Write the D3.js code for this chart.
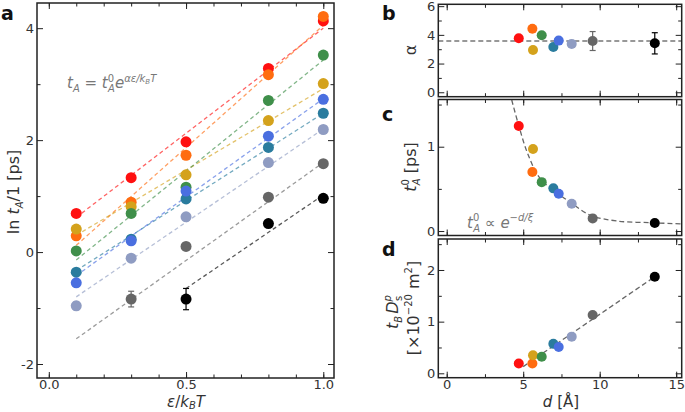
<!DOCTYPE html>
<html><head><meta charset="utf-8">
<script src="https://cdn.jsdelivr.net/npm/d3@7"></script>
<style>
body{margin:0;background:#fff;}
svg{display:block;font-family:"DejaVu Sans",sans-serif;}
</style></head>
<body><svg id="chart" width="685" height="412"></svg>
<script>
// ---------- data ----------
const seriesColors = ["#ff1010","#ff6c10","#d4a21c","#3f8f4a","#2a7c9e","#4a6fe0","#8f9cc2","#666666","#000000"];
const epsValues = [0.1, 0.3, 0.5, 0.8, 1.0];
const lnTA_red        = [0.69, 1.33, 1.97, 3.28, 4.13];
const lnTA_orange     = [0.29, 0.89, 1.73, 3.17, 4.21];
const lnTA_goldenrod  = [0.41, 0.81, 1.38, 2.35, 3.01];
const lnTA_green      = [0.02, 0.69, 1.16, 2.71, 3.52];
const lnTA_teal       = [-0.36, 0.23, 0.95, 1.87, 2.48];
const lnTA_blue       = [-0.55, 0.20, 1.09, 2.07, 2.73];
const lnTA_lightsteel = [-0.96, -0.11, 0.63, 1.60, 2.19];
const lnTA_gray       = [null, -0.84, 0.10, 0.98, 1.58];
const lnTA_black      = [null, null, -0.84, 0.51, 0.96];
const lnTAErr_lightsteel = [0.07, 0, 0, 0, 0];
const lnTAErr_gray       = [0, 0.14, 0, 0, 0];
const lnTAErr_black      = [0, 0, 0.19, 0, 0];
// fitted lines in panel a: start x, value at start, value at eps=1
const fitStartEps = [0.1, 0.1, 0.1, 0.1, 0.1, 0.1, 0.1, 0.1, 0.5];
const fitStartVal = [0.62, 0.12, 0.30, -0.14, -0.33, -0.42, -0.80, -1.55, -0.65];
const fitEndVal   = [4.00, 4.05, 2.92, 3.43, 2.48, 2.74, 2.20, 1.60, 1.02];

const dValues     = [4.71, 5.60, 5.64, 6.21, 6.97, 7.32, 8.17, 9.54, 13.6];
const alphaValues = [3.76, 4.43, 2.95, 3.97, 3.16, 3.60, 3.37, 3.57, 3.41];
const alphaErr    = [0, 0, 0, 0, 0, 0, 0, 0.66, 0.74];
const alphaMean   = 3.58;
const t0Values    = [1.245, 0.70, 0.973, 0.58, 0.506, 0.443, 0.324, 0.15, 0.095];
const t0CurveD    = [4.25, 4.71, 5.29, 6.10, 7.41, 8.17, 9.37, 11.11, 13.5, 15.46];
const t0CurveT    = [1.554, 1.25, 0.92, 0.625, 0.427, 0.33, 0.19, 0.119, 0.098, 0.083];
const tbDsValues  = [0.19, 0.19, 0.35, 0.32, 0.57, 0.51, 0.71, 1.13, 1.87];
const tbDsFitD    = [5.0, 13.6];
const tbDsFitV    = [0.13, 1.87];

const lnTA = [lnTA_red, lnTA_orange, lnTA_goldenrod, lnTA_green, lnTA_teal, lnTA_blue, lnTA_lightsteel, lnTA_gray, lnTA_black];
const lnTAErr = [null, null, null, null, null, null, lnTAErr_lightsteel, lnTAErr_gray, lnTAErr_black];

// ---------- drawing ----------
const svg = d3.select("#chart");
const TXT = "#333";
const FRAME = "#222";

function frameAxes(g, x, y, opt) {
  const w = x.range()[1] - x.range()[0];
  const h = y.range()[0] - y.range()[1];
  const x0 = x.range()[0], y1 = y.range()[1], y0 = y.range()[0], x1 = x.range()[1];
  const mk = (axis, tx, ty, size, ticks, labels, pad) => {
    const a = axis.tickValues(ticks).tickSize(-size).tickPadding(labels ? pad : 0)
      .tickFormat(labels ? opt.fmt[labels] : () => "");
    const ag = g.append("g").attr("transform", `translate(${tx},${ty})`).call(a);
    ag.select(".domain").remove();
    ag.selectAll("line").attr("stroke", FRAME).attr("stroke-width", 1);
    ag.selectAll("text").attr("fill", TXT).attr("font-size", 13).attr("font-family", "DejaVu Sans");
    return ag;
  };
  mk(d3.axisBottom(x), 0, y0, 6, opt.xMajor, opt.xLabels ? "x" : null, 2);
  mk(d3.axisBottom(x), 0, y0, 3.5, opt.xMinor, null);
  mk(d3.axisTop(x), 0, y1, 6, opt.xMajor, null);
  mk(d3.axisTop(x), 0, y1, 3.5, opt.xMinor, null);
  mk(d3.axisLeft(y), x0, 0, 6, opt.yMajor, "y", 3);
  mk(d3.axisLeft(y), x0, 0, 3.5, opt.yMinor, null);
  mk(d3.axisRight(y), x1, 0, 6, opt.yMajor, null);
  mk(d3.axisRight(y), x1, 0, 3.5, opt.yMinor, null);
  g.append("rect").attr("x", x0).attr("y", y1).attr("width", w).attr("height", h)
    .attr("fill", "none").attr("stroke", FRAME).attr("stroke-width", 1.5);
}

function range(a, b, s) { const r = []; for (let v = a; v <= b + 1e-9; v += s) r.push(+v.toFixed(4)); return r; }
const minusFmt = d => d < 0 ? "-" + Math.abs(d) : String(d);

// ===== Panel a =====
const xa = d3.scaleLinear().domain([-0.043, 1.039]).range([37, 334]);
const ya = d3.scaleLinear().domain([-2.25, 4.45]).range([378, 3]);
const ga = svg.append("g");
svg.append("clipPath").attr("id", "clipA").append("rect")
  .attr("x", 37).attr("y", 3).attr("width", 297).attr("height", 375);
const fitG = ga.append("g").attr("clip-path", "url(#clipA)");
lnTA.forEach((s, i) => {
  fitG.append("line")
    .attr("x1", xa(fitStartEps[i])).attr("y1", ya(fitStartVal[i]))
    .attr("x2", xa(1.0)).attr("y2", ya(fitEndVal[i]))
    .attr("stroke", seriesColors[i]).attr("stroke-opacity", 0.65)
    .attr("stroke-width", 1.3).attr("stroke-dasharray", "4,3");
});
lnTA.forEach((s, i) => {
  const errs = lnTAErr[i];
  s.forEach((v, j) => {
    if (v === null) return;
    if (errs && errs[j] > 0) {
      const cx = xa(epsValues[j]);
      const eg = ga.append("g").attr("stroke", seriesColors[i]).attr("stroke-width", 1.2);
      eg.append("line").attr("x1", cx).attr("x2", cx).attr("y1", ya(v - errs[j])).attr("y2", ya(v + errs[j]));
      eg.append("line").attr("x1", cx - 3).attr("x2", cx + 3).attr("y1", ya(v - errs[j])).attr("y2", ya(v - errs[j]));
      eg.append("line").attr("x1", cx - 3).attr("x2", cx + 3).attr("y1", ya(v + errs[j])).attr("y2", ya(v + errs[j]));
    }
  });
});
lnTA.forEach((s, i) => {
  s.forEach((v, j) => {
    if (v === null) return;
    ga.append("circle").attr("cx", xa(epsValues[j])).attr("cy", ya(v)).attr("r", 5.5)
      .attr("fill", seriesColors[i]);
  });
});
frameAxes(ga, xa, ya, {
  xMajor: [0, 0.5, 1.0], xMinor: range(0, 1.0, 0.1), yMajor: [-2, 0, 2, 4], yMinor: [-1, 1, 3],
  xLabels: true, fmt: { x: d3.format(".1f"), y: minusFmt }
});

// ===== Panels b, c, d shared x =====
const xr = [438.3, 681.7];
const xd = d3.scaleLinear().domain([-0.55, 15.36]).range(xr);
const xMajorD = [0, 5, 10, 15], xMinorD = range(0, 15, 2.5);

// Panel b
const yb = d3.scaleLinear().domain([-0.31, 6.13]).range([96.7, 4.3]);
const gb = svg.append("g");
gb.append("line").attr("x1", xr[0]).attr("x2", xr[1]).attr("y1", yb(alphaMean)).attr("y2", yb(alphaMean))
  .attr("stroke", "#777").attr("stroke-width", 1.5).attr("stroke-dasharray", "5,3");
alphaValues.forEach((v, i) => {
  if (alphaErr[i] > 0) {
    const cx = xd(dValues[i]);
    const eg = gb.append("g").attr("stroke", seriesColors[i]).attr("stroke-width", 1.2);
    eg.append("line").attr("x1", cx).attr("x2", cx).attr("y1", yb(v - alphaErr[i])).attr("y2", yb(v + alphaErr[i]));
    [v - alphaErr[i], v + alphaErr[i]].forEach(e =>
      eg.append("line").attr("x1", cx - 3).attr("x2", cx + 3).attr("y1", yb(e)).attr("y2", yb(e)));
  }
});
alphaValues.forEach((v, i) => gb.append("circle").attr("cx", xd(dValues[i])).attr("cy", yb(v)).attr("r", 5).attr("fill", seriesColors[i]));
frameAxes(gb, xd, yb, { xMajor: xMajorD, xMinor: xMinorD, yMajor: [0, 2, 4, 6], yMinor: [1, 3, 5], xLabels: false, fmt: { y: minusFmt } });

// Panel c
const yc = d3.scaleLinear().domain([-0.053, 1.56]).range([235.5, 99.5]);
const gc = svg.append("g");
svg.append("clipPath").attr("id", "clipC").append("rect").attr("x", xr[0]).attr("y", 99.5).attr("width", xr[1] - xr[0]).attr("height", 136);
gc.append("path").attr("clip-path", "url(#clipC)")
  .datum(t0CurveD.map((d, i) => [d, t0CurveT[i]]))
  .attr("d", d3.line().x(p => xd(p[0])).y(p => yc(p[1])).curve(d3.curveCatmullRom))
  .attr("fill", "none").attr("stroke", "#666").attr("stroke-width", 1.3).attr("stroke-dasharray", "5,3");
t0Values.forEach((v, i) => gc.append("circle").attr("cx", xd(dValues[i])).attr("cy", yc(v)).attr("r", 5).attr("fill", seriesColors[i]));
frameAxes(gc, xd, yc, { xMajor: xMajorD, xMinor: xMinorD, yMajor: [0, 1], yMinor: [0.5, 1.5], xLabels: false, fmt: { y: minusFmt } });

// Panel d
const ydd = d3.scaleLinear().domain([-0.085, 2.60]).range([377.7, 239]);
const gd = svg.append("g");
gd.append("line").attr("x1", xd(tbDsFitD[0])).attr("x2", xd(tbDsFitD[1]))
  .attr("y1", ydd(tbDsFitV[0])).attr("y2", ydd(tbDsFitV[1]))
  .attr("stroke", "#666").attr("stroke-width", 1.3).attr("stroke-dasharray", "5,3");
tbDsValues.forEach((v, i) => gd.append("circle").attr("cx", xd(dValues[i])).attr("cy", ydd(v)).attr("r", 5).attr("fill", seriesColors[i]));
frameAxes(gd, xd, ydd, { xMajor: xMajorD, xMinor: xMinorD, yMajor: [0, 1, 2], yMinor: [0.5, 1.5, 2.5], xLabels: true, fmt: { x: d3.format("d"), y: minusFmt } });

// ---------- text ----------
function addText(x, y, parts, opts = {}) {
  const t = svg.append("text").attr("x", x).attr("y", y)
    .attr("font-size", opts.size || 15).attr("fill", opts.fill || TXT)
    .attr("text-anchor", opts.anchor || "start");
  if (opts.rotate) t.attr("transform", `rotate(-90,${x},${y})`);
  parts.forEach(p => {
    const ts = t.append("tspan").text(p.t);
    if (p.i) ts.attr("font-style", "italic");
    if (p.dy) ts.attr("dy", p.dy);
    if (p.s) ts.attr("font-size", p.s);
    if (p.dx) ts.attr("dx", p.dx);
  });
  return t;
}
[["a", 1, 20], ["b", 382, 20], ["c", 382, 121], ["d", 382, 256]].forEach(([l, x, y]) =>
  svg.append("text").attr("x", x).attr("y", y).attr("font-size", 19).attr("font-weight", "bold").attr("fill", "#111").text(l));

addText(19, 192, [{ t: "ln " }, { t: "t", i: 1 }, { t: "A", i: 1, s: 10, dy: 4 }, { t: "/1 [ps]", dy: -4 }], { anchor: "middle", rotate: 1, size: 16 });
addText(186, 407, [{ t: "ε", i: 1 }, { t: "/" }, { t: "k", i: 1 }, { t: "B", i: 1, s: 10, dy: 2 }, { t: "T", i: 1, dy: -2 }], { anchor: "middle", size: 15 });
addText(67, 88, [{ t: "t", i: 1 }, { t: "A", i: 1, s: 10, dy: 4 }, { t: " = ", dy: -4 }, { t: "t", i: 1 },
  { t: "0", s: 10, dy: -6 }, { t: "A", i: 1, s: 10, dx: -6, dy: 10 }, { t: "e", i: 1, dy: -4 },
  { t: "αε/k", i: 1, s: 10, dy: -6 }, { t: "B", i: 1, s: 7, dy: 2 }, { t: "T", i: 1, s: 10, dy: -2 }], { fill: "#777", size: 15 });

addText(416, 50, [{ t: "α" }], { anchor: "middle", rotate: 1, size: 16 });
addText(416, 167, [{ t: "t", i: 1 }, { t: "0", s: 10, dy: -7 }, { t: "A", i: 1, s: 10, dx: -6, dy: 11 }, { t: " [ps]", dy: -4 }], { anchor: "middle", rotate: 1, size: 16 });
addText(398, 312, [{ t: "t", i: 1 }, { t: "B", i: 1, s: 10, dy: 4 }, { t: "D", i: 1, dy: -4, dx: 2 }, { t: "p", i: 1, s: 10, dy: -7 }, { t: "s", s: 10, dx: -6, dy: 11 }], { anchor: "middle", rotate: 1, size: 16 });
addText(419, 308, [{ t: "[×10" }, { t: "−20", s: 10, dy: -7 }, { t: " m", dy: 7 }, { t: "2", s: 10, dy: -7 }, { t: "]", dy: 7 }], { anchor: "middle", rotate: 1, size: 16 });
addText(467, 228, [{ t: "t", i: 1 }, { t: "0", s: 10, dy: -7 }, { t: "A", i: 1, s: 10, dx: -6, dy: 11 }, { t: " ∝ ", dy: -4 }, { t: "e", i: 1 },
  { t: "−", s: 10, dy: -7 }, { t: "d/ξ", i: 1, s: 10 }], { fill: "#777", size: 15 });
addText(561, 407, [{ t: "d", i: 1 }, { t: " [Å]" }], { anchor: "middle", size: 15 });
</script></body></html>
